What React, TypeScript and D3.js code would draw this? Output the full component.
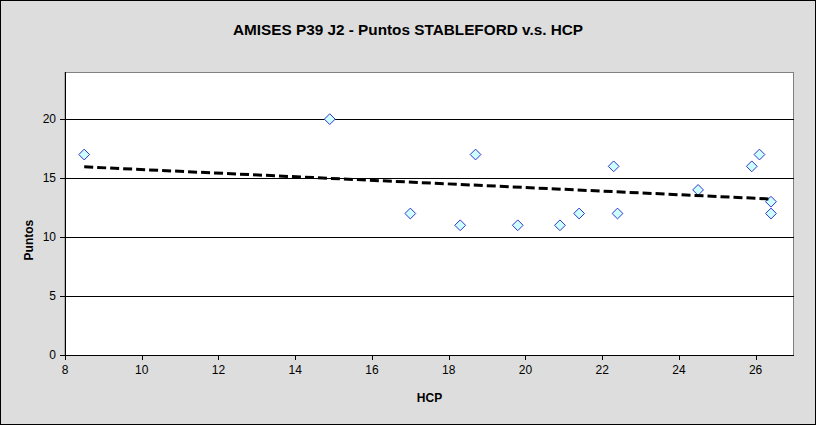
import React from "react";
import * as d3 from "d3";

const hcp = [8.5, 14.9, 17, 18.3, 18.7, 19.8, 20.9, 21.4, 22.3, 22.4, 24.5, 25.9, 26.1, 26.4, 26.4];
const puntos = [17, 20, 12, 11, 17, 11, 11, 12, 16, 12, 14, 16, 17, 13, 12];
const xTicks = [8, 10, 12, 14, 16, 18, 20, 22, 24, 26];
const yTicks = [0, 5, 10, 15, 20];
const title = "AMISES P39 J2 - Puntos STABLEFORD v.s. HCP";

export default function App() {
  const W = 816, H = 425;
  const left = 65, right = 794, top = 72, bottom = 355;
  const x = d3.scaleLinear().domain([8, 27]).range([left, right]);
  const y = d3.scaleLinear().domain([0, 24]).range([bottom, top]);

  const n = hcp.length;
  const mx = d3.mean(hcp) as number;
  const my = d3.mean(puntos) as number;
  let sxy = 0, sxx = 0;
  for (let i = 0; i < n; i++) {
    sxy += (hcp[i] - mx) * (puntos[i] - my);
    sxx += (hcp[i] - mx) ** 2;
  }
  const slope = sxy / sxx;
  const icpt = my - slope * mx;
  const x0 = d3.min(hcp) as number, x1 = d3.max(hcp) as number;
  const trend = d3.line<number>().x((v) => x(v)).y((v) => y(icpt + slope * v))([x0, x1]) || "";
  const diamond = d3.symbol().type(d3.symbolDiamond2).size(74)() || "";
  const font = "'Liberation Sans', Arial, sans-serif";

  return (
    <svg width={W} height={H} style={{ display: "block", position: "absolute", left: 0, top: 0 }} fontFamily={font}>
      <rect x={0.5} y={0.5} width={W - 1} height={H - 1} fill="#DDDDDD" stroke="#000" />
      <text x={W / 2} y={35} textAnchor="middle" fontSize={14.5} fontWeight="bold" textLength={350} lengthAdjust="spacingAndGlyphs">{title}</text>
      <rect x={left} y={top + 0.5} width={right - left - 0.5} height={bottom - top} fill="#fff" stroke="#808080" />
      {yTicks.filter((t) => t > 0).map((t) => (
        <line key={t} x1={left} x2={right} y1={Math.round(y(t)) + 0.5} y2={Math.round(y(t)) + 0.5} stroke="#000" />
      ))}
      <line x1={left + 0.5} x2={left + 0.5} y1={top} y2={bottom + 5} stroke="#000" />
      <line x1={left - 5} x2={right} y1={bottom + 0.5} y2={bottom + 0.5} stroke="#000" />
      {yTicks.map((t) => (
        <g key={t}>
          <line x1={left - 5} x2={left} y1={Math.round(y(t)) + 0.5} y2={Math.round(y(t)) + 0.5} stroke="#000" />
          <text x={left - 9} y={y(t) + 4} textAnchor="end" fontSize={12}>{t}</text>
        </g>
      ))}
      {xTicks.map((t) => (
        <g key={t}>
          <line x1={Math.round(x(t)) + 0.5} x2={Math.round(x(t)) + 0.5} y1={bottom} y2={bottom + 5} stroke="#000" />
          <text x={x(t)} y={bottom + 19} textAnchor="middle" fontSize={12}>{t}</text>
        </g>
      ))}
      <text x={x(17.5)} y={402} textAnchor="middle" fontSize={12} fontWeight="bold">HCP</text>
      <text transform={`translate(33,${y(10) + 3}) rotate(-90)`} textAnchor="middle" fontSize={12} fontWeight="bold">Puntos</text>
      {hcp.map((h, i) => (
        <path key={i} d={diamond} transform={`translate(${x(h)},${y(puntos[i])})`} fill="#CCFFFF" stroke="#3333CC" strokeWidth={1} />
      ))}
      <path d={trend} fill="none" stroke="#000" strokeWidth={3} strokeDasharray="9,4" />
    </svg>
  );
}
